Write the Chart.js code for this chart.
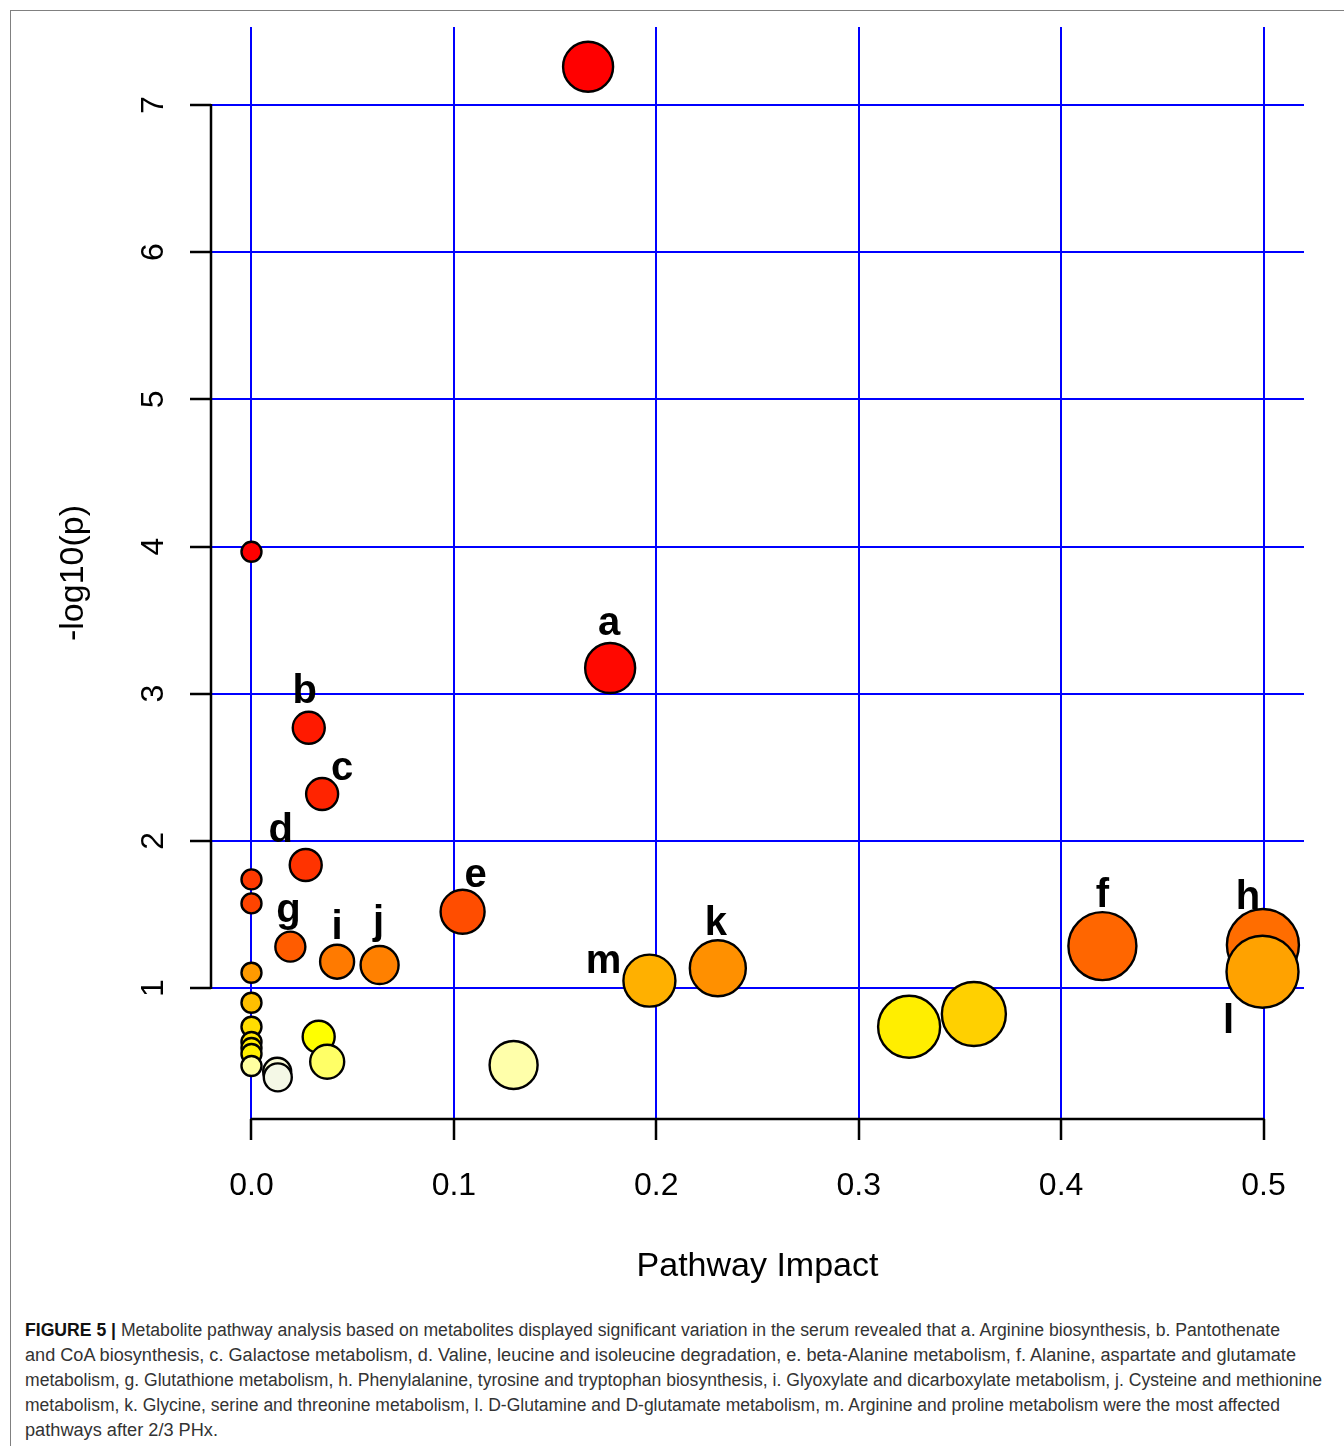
<!DOCTYPE html>
<html>
<head>
<meta charset="utf-8">
<script src="https://cdn.jsdelivr.net/npm/chart.js@4.4.1/dist/chart.umd.min.js"></script>
<style>
  html, body { margin: 0; padding: 0; background: #fff; }
  body { width: 1344px; height: 1446px; position: relative; overflow: hidden; }
  #frame { position: absolute; left: 10px; top: 10px; width: 1400px; height: 1500px;
           border-left: 1px solid #808080; border-top: 1px solid #808080; }
  #plot { position: absolute; left: 0; top: 0; }
  #caption { position: absolute; left: 25px; top: 1318px; font-size: 18px; line-height: 25px;
             color: #333; font-family: "Liberation Sans Narrow", "Liberation Sans", Arial, sans-serif; }
  #caption div { white-space: nowrap; width: max-content; transform-origin: 0 0; }
  #caption b { color: #111; }
</style>
</head>
<body>
<div id="frame"></div>
<canvas id="plot" width="1344" height="1300"></canvas>
<div id="caption">
  <div><b>FIGURE 5 |</b> Metabolite pathway analysis based on metabolites displayed significant variation in the serum revealed that a. Arginine biosynthesis, b. Pantothenate</div>
  <div>and CoA biosynthesis, c. Galactose metabolism, d. Valine, leucine and isoleucine degradation, e. beta-Alanine metabolism, f. Alanine, aspartate and glutamate</div>
  <div>metabolism, g. Glutathione metabolism, h. Phenylalanine, tyrosine and tryptophan biosynthesis, i. Glyoxylate and dicarboxylate metabolism, j. Cysteine and methionine</div>
  <div>metabolism, k. Glycine, serine and threonine metabolism, l. D-Glutamine and D-glutamate metabolism, m. Arginine and proline metabolism were the most affected</div>
  <div>pathways after 2/3 PHx.</div>
</div>
<script>
// Data (ordered by -log10(p) so lower points draw on top)
////////////////////////////////////////////////////////////////////////
const impact = [0.1663, 0, 0.1772, 0.0283, 0.0349, 0.0268, 0, 0, 0.1043, 0.4997,
                0.4204, 0.0192, 0.0423, 0.0633, 0.2304, 0.4995, 0, 0.1966, 0, 0.3569,
                0.3249, 0, 0.0332, 0, 0, 0, 0.0374, 0.1295, 0, 0.0127, 0.0130];
const logP   = [7.260, 3.964, 3.174, 2.768, 2.318, 1.836, 1.738, 1.575, 1.518, 1.292,
                1.285, 1.281, 1.179, 1.156, 1.134, 1.111, 1.104, 1.050, 0.900, 0.823,
                0.737, 0.737, 0.669, 0.633, 0.592, 0.552, 0.499, 0.477, 0.470, 0.431, 0.393];
const bubbleR = [25, 10, 25, 16, 16, 16, 10, 10, 22, 36,
                 34, 15, 17, 19, 28, 36, 10, 26, 10, 32,
                 31, 10, 16, 10, 10, 10, 17, 24, 10, 14, 14];
const tags   = ['', '', 'a', 'b', 'c', 'd', '', '', 'e', 'h',
                'f', 'g', 'i', 'j', 'k', 'l', '', 'm', '', '',
                '', '', '', '', '', '', '', '', '', '', ''];

const xTicks = [0, 0.1, 0.2, 0.3, 0.4, 0.5];
const xTickLabels = ['0.0', '0.1', '0.2', '0.3', '0.4', '0.5'];
const yTicks = [1, 2, 3, 4, 5, 6, 7];
const yTickLabels = ['1', '2', '3', '4', '5', '6', '7'];

// Styles
////////////////////////////////////////////////////////////////////////
const bubbleFill = ['#ff0000', '#ff0000', '#ff0800', '#ff1a00', '#ff2400', '#ff3300', '#ff3a00', '#ff4400', '#ff4d00', '#ff6d00',
                    '#ff6600', '#ff5c00', '#ff7a00', '#ff8000', '#ff9000', '#ffa200', '#ff9a00', '#ffb000', '#ffbf00', '#ffd000',
                    '#ffee00', '#ffdd00', '#ffff00', '#ffe400', '#ffea00', '#fff000', '#ffff66', '#ffffaa', '#ffffa0', '#fafcd8', '#f4f8e6'];
// label offset from bubble centre, px (baseline)
const tagOffset = { a: [-1, -33], b: [-4, -25], c: [20, -14], d: [-25, -23], e: [13, -25],
                    f: [0, -39], g: [-2, -25], h: [-15, -36], i: [0, -23], j: [-1, -31],
                    k: [-2, -33], l: [-34, 61], m: [-46, -8] };
const FONT = '"Liberation Sans", Arial, sans-serif';

// Plugins
////////////////////////////////////////////////////////////////////////
// R style axis lines: only from first to last tick
const axisLines = {
    id: 'axisLines',
    beforeDatasetsDraw(chart) {
        const { ctx, chartArea, scales: { x, y } } = chart;
        ctx.save();
        ctx.strokeStyle = '#000';
        ctx.lineWidth = 2.5;
        ctx.beginPath();
        ctx.moveTo(x.getPixelForValue(xTicks[0]) - 1, chartArea.bottom);
        ctx.lineTo(x.getPixelForValue(xTicks[xTicks.length - 1]) + 1, chartArea.bottom);
        ctx.moveTo(chartArea.left, y.getPixelForValue(yTicks[0]) + 1);
        ctx.lineTo(chartArea.left, y.getPixelForValue(yTicks[yTicks.length - 1]) - 1);
        ctx.stroke();
        ctx.restore();
    }
};

// y tick labels, written parallel to the axis
const yTickText = {
    id: 'yTickText',
    afterDraw(chart) {
        const { ctx, chartArea, scales: { y } } = chart;
        ctx.save();
        ctx.font = '32px ' + FONT;
        ctx.fillStyle = '#000';
        ctx.textAlign = 'center';
        ctx.textBaseline = 'middle';
        y.ticks.forEach((t, i) => {
            ctx.save();
            ctx.translate(chartArea.left - 57, y.getPixelForValue(t.value));
            ctx.rotate(-Math.PI / 2);
            ctx.fillText(yTickLabels[i], 0, 0);
            ctx.restore();
        });
        ctx.restore();
    }
};

// pathway letters next to bubbles
const pointTags = {
    id: 'pointTags',
    afterDatasetsDraw(chart) {
        const ctx = chart.ctx;
        const meta = chart.getDatasetMeta(0);
        ctx.save();
        ctx.font = 'bold 40px ' + FONT;
        ctx.fillStyle = '#000';
        ctx.textAlign = 'center';
        ctx.textBaseline = 'alphabetic';
        tags.forEach((tag, i) => {
            if (!tag) return;
            const pt = meta.data[i];
            const off = tagOffset[tag];
            ctx.fillText(tag, pt.x + off[0], pt.y + off[1]);
        });
        ctx.restore();
    }
};

const gridStyle = { color: '#0000ff', lineWidth: 2, tickColor: '#000', tickWidth: 2.5, tickLength: 21 };

new Chart(document.getElementById('plot'), {
    type: 'bubble',
    data: {
        datasets: [{
            data: impact.map((v, i) => ({ x: v, y: logP[i], r: bubbleR[i] })),
            backgroundColor: bubbleFill,
            borderColor: '#000',
            borderWidth: 2.4,
            hoverRadius: 0,
            clip: false
        }]
    },
    options: {
        responsive: false,
        animation: false,
        devicePixelRatio: 1,
        events: [],
        layout: { autoPadding: false, padding: { top: 27, right: 40, left: 0, bottom: 0 } },
        plugins: { legend: { display: false }, tooltip: { enabled: false } },
        scales: {
            x: {
                type: 'linear',
                min: -0.02,
                max: 0.52,
                afterBuildTicks: s => { s.ticks = xTicks.map(v => ({ value: v })); },
                afterFit: s => { s.height = 181; },
                border: { display: false },
                grid: gridStyle,
                ticks: {
                    color: '#000',
                    font: { family: FONT, size: 32 },
                    padding: 27,
                    maxRotation: 0,
                    callback: (v, i) => xTickLabels[i]
                },
                title: {
                    display: true,
                    text: 'Pathway Impact',
                    color: '#000',
                    font: { family: FONT, size: 34 },
                    padding: { top: 0, bottom: 13 }
                }
            },
            y: {
                type: 'linear',
                min: 0.11,
                max: 7.53,
                afterBuildTicks: s => { s.ticks = yTicks.map(v => ({ value: v })); },
                afterFit: s => { s.width = 211; },
                border: { display: false },
                grid: gridStyle,
                ticks: { display: false },
                title: {
                    display: true,
                    text: '-log10(p)',
                    color: '#000',
                    font: { family: FONT, size: 34 },
                    padding: { top: 53, bottom: 0 }
                }
            }
        }
    },
    plugins: [axisLines, yTickText, pointTags]
});

// caption lines squeezed to the widths of the printed figure legend
const captionRight = [1280, 1296, 1322, 1280, 218];
document.querySelectorAll('#caption div').forEach((line, i) => {
    const w = line.getBoundingClientRect().width;
    const target = captionRight[i] - 25;
    line.style.transform = 'scaleX(' + (target / w) + ')';
});
</script>
</body>
</html>
